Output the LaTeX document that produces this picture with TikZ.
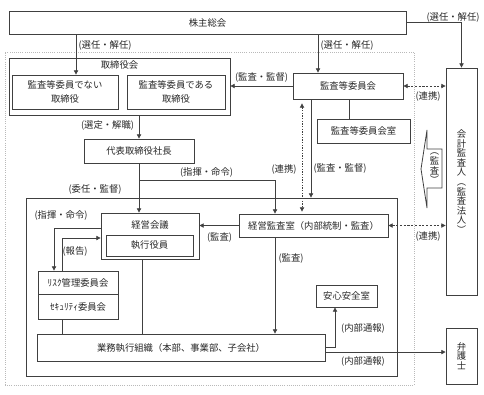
\documentclass[tikz,border=0pt]{standalone}
\usepackage{fontspec}
\setmainfont{Noto Sans CJK JP}
\usepackage{tikz}
\usetikzlibrary{arrows.meta,
positioning,
calc}

\begin{document}
\begin{tikzpicture}[
x=0.75pt, y=-0.75pt,
>={Triangle[length=3.2pt,width=3.2pt]},
line width=0.6pt,
every node/.style={font=\fontsize{7}{10}\selectfont, text=black!85},
box/.style={
draw=black!75,
align=center,
inner sep=0pt
},
frame/.style={
draw=black!75,
inner sep=0pt
},
lbl/.style={
inner sep=0pt
},
vtext/.style={
align=center,
inner sep=0pt,
font=\fontsize{7}{7.2}\selectfont
},
line/.style={draw=black!75},
link/.style={draw=black!75, dash pattern=on 1.6pt off 1.2pt, <->}
]

\useasboundingbox (0,0) rectangle (484,394);

% Frames
\node[frame, draw=gray!55, densely dotted, minimum width=306.75pt, minimum height=249.75pt] (company) at (209.5,218.5) {};
\node[frame, minimum width=278.25pt, minimum height=133.5pt] (exec) at (211.5,287) {};
\node[frame, minimum width=165.75pt, minimum height=42.75pt] (board) at (119.5,86.5) {};
\node[lbl] (boardtitle) at (119.5,65) {取締役会};

% Top
\node[box, minimum width=297.75pt, minimum height=17.25pt] (share) at (207.5,22.5) {株主総会};

% Board
\node[box, minimum width=79.5pt, minimum height=25.5pt] (nonaudit) at (65,92) {監査等委員でない\\取締役};
\node[box, minimum width=73.5pt, minimum height=25.5pt] (auditdir) at (176,92) {監査等委員である\\取締役};

% Audit committee
\node[box, minimum width=82.5pt, minimum height=19.5pt] (acomm) at (348,86) {監査等委員会};
\node[box, minimum width=69.75pt, minimum height=18pt] (acoffice) at (363.5,131) {監査等委員会室};

% Right side
\node[box, vtext, minimum width=23.25pt, minimum height=170.25pt] (auditor) at (461.5,181.5) {会\\計\\監\\査\\人\\︵\\監\\査\\法\\人\\︶};
\node[box, vtext, minimum width=23.25pt, minimum height=42pt] (lawyer) at (461.5,356) {弁\\護\\士};

% Block arrow
\draw[line] (442,149) -- (427,149) -- (427,130) -- (421,169) -- (427,208) -- (427,188) -- (442,188) -- cycle;
\node[vtext] (audittag) at (434.5,168.5) {︵\\監\\査\\︶};

% Execution
\node[box, minimum width=82.5pt, minimum height=18pt] (ceo) at (139,151) {代表取締役社長};
\node[box, minimum width=73.5pt, minimum height=34.5pt] (mgmt) at (150,236) {};
\node[lbl] (mgmttitle) at (150,225) {経営会議};
\node[box, minimum width=65.25pt, minimum height=15.75pt] (officers) at (149.5,245.5) {執行役員};
\node[box, minimum width=111.75pt, minimum height=17.25pt] (iaudit) at (313.5,225.5) {経営監査室（内部統制・監査）};
\node[box, minimum width=60pt, minimum height=17.25pt] (risk) at (78,282.5) {ﾘｽｸ管理委員会};
\node[box, minimum width=60pt, minimum height=18.75pt] (security) at (78,306.5) {ｾｷｭﾘﾃｨ委員会};
\node[box, minimum width=45.75pt, minimum height=16.5pt] (safety) at (346.5,296) {安心安全室};
\node[box, minimum width=216pt, minimum height=20.25pt] (ops) at (181,347.5) {業務執行組織（本部、事業部、子会社）};

% Guides
\coordinate (xa) at (76,0);
\coordinate (xb) at (318,0);
\coordinate (xc) at (349,0);
\coordinate (xd) at (275,0);
\coordinate (xe) at (302,0);
\coordinate (xf) at (311,0);
\coordinate (xg) at (142,0);
\coordinate (xh) at (62.5,0);
\coordinate (xi) at (54,0);
\coordinate (xj) at (335,0);
\coordinate (split) at (139,180);

% Connections
\draw[line, ->] (share.south -| xa) -- (nonaudit.north -| xa);
\draw[line, ->] (share.south -| xb) -- (acomm.north -| xb);
\draw[line, ->] (share.east) -| (auditor.north);

\draw[line, ->] (acomm.west) -- (acomm.west -| board.east);
\draw[line] (acomm.south -| xc) -- (acoffice.north -| xc);
\draw[link] (acomm.east) -- (acomm.east -| auditor.west);
\draw[link, dash pattern=on 1pt off 1pt, shorten <=3pt, shorten >=1.5pt] (acomm.south -| xe) -- (iaudit.north -| xe);
\draw[line, ->] (acomm.south -| xf) -- (exec.north -| xf);

\draw[line, ->] (board.south -| ceo.north) -- (ceo.north);
\draw[line, ->] (ceo.south) -- (ceo.south |- mgmt.north);
\draw[line, ->] (split) -| (iaudit.north -| xd);

\draw[line, ->] (iaudit.west) -- (iaudit.west -| mgmt.east);
\draw[link] (iaudit.east) -- (iaudit.east -| auditor.west);
\draw[line, ->] (iaudit.south -| xd) -- (ops.north -| xd);

\draw[line] (mgmt.south -| xg) -- (ops.north -| xg);
\draw[line] (security.south -| xh) -- (ops.north -| xh);
\draw[line, ->] ([yshift=6pt]mgmt.west) -| (risk.north -| xi);
\draw[line, ->] (risk.north -| xh) |- ([yshift=-1.5pt]mgmt.west);

\draw[line, ->] (ops.east) -| (safety.south -| xj);
\draw[line, ->] ([yshift=-3.4pt]ops.east) -- ([yshift=-3.4pt]ops.east -| lawyer.west);

% Labels
\node[lbl] (elect1) at (453,17) {(選任・解任)};
\node[lbl] (elect2) at (105,45) {(選任・解任)};
\node[lbl] (elect3) at (347,45) {(選任・解任)};
\node[lbl] (supv1) at (261.5,77) {(監査・監督)};
\node[lbl] (coop1) at (428,96) {(連携)};
\node[lbl] (appoint) at (107.5,125) {(選定・解職)};
\node[lbl] (order1) at (206.5,172) {(指揮・命令)};
\node[lbl] (coop2) at (284,169) {(連携)};
\node[lbl] (supv2) at (340,168) {(監査・監督)};
\node[lbl] (delegate) at (95,189) {(委任・監督)};
\node[lbl] (order2) at (61,215) {(指揮・命令)};
\node[lbl] (report) at (75,251) {(報告)};
\node[lbl] (audit1) at (219.5,237) {(監査)};
\node[lbl] (coop3) at (428,236) {(連携)};
\node[lbl] (audit2) at (291,258) {(監査)};
\node[lbl] (whistle1) at (363,328) {(内部通報)};
\node[lbl] (whistle2) at (363,361) {(内部通報)};

\end{tikzpicture}
\end{document}
